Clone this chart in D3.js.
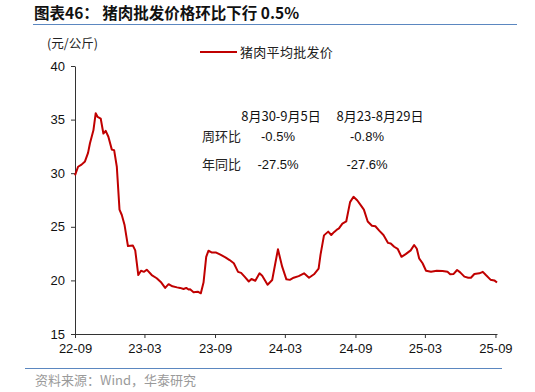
<!DOCTYPE html>
<html>
<head>
<meta charset="utf-8">
<script src="https://cdn.jsdelivr.net/npm/d3@7"></script>
<style>
  body { margin: 0; background: #fff; }
  text { font-family: "Liberation Sans", Arial, "Noto Sans CJK SC", sans-serif; }
  .cjk { font-family: "Noto Sans CJK SC", sans-serif; }
</style>
</head>
<body>
<div id="chart"></div>
<script>
// ---- data ----
const title = "图表46：  猪肉批发价格环比下行 0.5%"
const unitLabel = "(元/公斤)"
const seriesName = "猪肉平均批发价"
const source = "资料来源：Wind，华泰研究"

const dates = [
  "2022-09-01", "2022-09-09", "2022-09-18", "2022-09-27", "2022-10-05", "2022-10-10",
  "2022-10-19", "2022-10-25", "2022-10-30", "2022-11-07", "2022-11-14", "2022-11-20",
  "2022-11-27", "2022-12-06", "2022-12-12", "2022-12-19", "2022-12-26", "2023-01-01",
  "2023-01-08", "2023-01-17", "2023-01-30", "2023-02-05", "2023-02-13", "2023-02-20",
  "2023-02-28", "2023-03-07", "2023-03-20", "2023-04-02", "2023-04-14", "2023-04-24",
  "2023-05-03", "2023-05-13", "2023-05-25", "2023-06-02", "2023-06-11", "2023-06-18",
  "2023-06-24", "2023-06-28", "2023-07-07", "2023-07-18", "2023-07-26", "2023-08-02",
  "2023-08-09", "2023-08-15", "2023-08-24", "2023-09-04", "2023-09-15", "2023-09-28",
  "2023-10-09", "2023-10-20", "2023-10-31", "2023-11-08", "2023-11-17", "2023-11-28",
  "2023-12-05", "2023-12-15", "2023-12-26", "2024-01-02", "2024-01-16", "2024-01-28",
  "2024-02-12", "2024-02-23", "2024-03-05", "2024-03-14", "2024-03-24", "2024-04-06",
  "2024-04-20", "2024-05-03", "2024-05-16", "2024-05-28", "2024-06-02", "2024-06-11",
  "2024-06-22", "2024-06-30", "2024-07-07", "2024-07-16", "2024-07-20", "2024-07-29",
  "2024-08-08", "2024-08-18", "2024-08-27", "2024-09-06", "2024-09-17", "2024-09-23",
  "2024-10-03", "2024-10-14", "2024-10-23", "2024-11-02", "2024-11-13", "2024-11-25",
  "2024-12-02", "2024-12-11", "2024-12-20", "2024-12-30", "2025-01-10", "2025-01-23",
  "2025-02-01", "2025-02-08", "2025-02-14", "2025-02-23", "2025-03-04", "2025-03-17",
  "2025-04-01", "2025-04-16", "2025-04-29", "2025-05-06", "2025-05-15", "2025-05-24",
  "2025-06-01", "2025-06-12", "2025-06-22", "2025-06-29", "2025-07-08", "2025-07-21",
  "2025-07-30", "2025-08-07", "2025-08-19", "2025-08-29", "2025-09-05"
]
const prices = [
  29.8, 30.6, 30.8, 31.1, 31.9, 32.8,
  34.0, 35.6, 35.25, 35.1, 33.7, 33.95,
  33.4, 32.2, 32.15, 30.6, 26.6, 26.1,
  25.2, 23.2, 23.25, 22.8, 20.5, 20.9,
  20.8, 21.0, 20.5, 20.2, 19.8, 19.3,
  19.65, 19.45, 19.35, 19.3, 19.2, 19.3,
  19.15, 19.17, 18.9, 18.95, 18.8, 19.8,
  22.2, 22.77, 22.6, 22.6, 22.4, 22.15,
  21.9, 21.6, 20.8, 20.7, 20.35, 19.9,
  20.13, 19.97, 20.66, 20.44, 19.6, 20.04,
  22.9, 21.28, 20.1, 20.05, 20.25, 20.4,
  20.66, 20.25, 20.57, 21.1, 22.4, 24.2,
  24.55, 24.24, 24.5, 24.77, 24.85, 25.3,
  25.5, 27.3, 27.8, 27.45, 26.9, 26.6,
  25.5, 25.1, 25.05, 24.64, 24.24, 23.5,
  23.45, 23.14, 22.95, 22.2, 22.45, 22.8,
  23.3, 22.95, 22.06, 21.6, 20.9, 20.8,
  20.9, 20.88, 20.8, 20.57, 20.6, 20.97,
  20.75, 20.35, 20.25, 20.25, 20.6, 20.66,
  20.8, 20.5, 20.07, 20.0, 19.8
]

const xTickDates = ["2022-09-01", "2023-03-01", "2023-09-01", "2024-03-01", "2024-09-01", "2025-03-01", "2025-09-01"]
const yTicks = [15, 20, 25, 30, 35, 40]

const tableHeaders = ["8月30-9月5日", "8月23-8月29日"]
const tableRows = ["周环比", "年同比"]
const tableValues = [["-0.5%", "-0.8%"], ["-27.5%", "-27.6%"]]

// ---- layout ----
const W = 535, H = 392
const margin = { top: 66, right: 38, bottom: 58, left: 75 }
const parse = d3.timeParse("%Y-%m-%d")
const data = dates.map((d, i) => ({ date: parse(d), value: prices[i] }))

const svg = d3.select("#chart").append("svg").attr("width", W).attr("height", H)

const x = d3.scaleTime()
  .domain([parse("2022-09-01"), parse("2025-09-05")])
  .range([margin.left, W - margin.right])
const y = d3.scaleLinear().domain([15, 40]).range([H - margin.bottom, margin.top])

// title + rules
svg.append("text").attr("class", "cjk").attr("x", 34).attr("y", 19)
  .attr("font-size", 15.5).attr("font-weight", "bold").attr("fill", "#111").text(title)
svg.append("line").attr("x1", 33).attr("x2", 517).attr("y1", 24.5).attr("y2", 24.5)
  .attr("stroke", "#5b87c0").attr("stroke-width", 1)
svg.append("line").attr("x1", 25).attr("x2", 502).attr("y1", 368.5).attr("y2", 368.5)
  .attr("stroke", "#5b87c0").attr("stroke-width", 1)
svg.append("text").attr("class", "cjk").attr("x", 35).attr("y", 385)
  .attr("font-size", 13).attr("fill", "#9a9a9a").text(source)

// unit label
svg.append("text").attr("class", "cjk").attr("x", 47).attr("y", 48)
  .attr("font-size", 12.5).attr("fill", "#222").text(unitLabel)

// axes
const fmt = d3.timeFormat("%y-%m")
svg.append("g")
  .attr("transform", `translate(0, ${H - margin.bottom})`)
  .call(d3.axisBottom(x).tickValues(xTickDates.map(parse)).tickFormat(fmt).tickSize(4).tickSizeOuter(0))
  .call((g) => g.select(".domain").attr("stroke", "#333"))
  .call((g) => g.selectAll(".tick line").attr("stroke", "#333"))
  .call((g) => g.selectAll(".tick text").attr("font-size", 13).attr("fill", "#111")
    .attr("font-family", "Liberation Sans, Arial, sans-serif").attr("dy", "0.95em"))

svg.append("g")
  .attr("transform", `translate(${margin.left}, 0)`)
  .call(d3.axisLeft(y).tickValues(yTicks).tickSize(4).tickSizeOuter(0))
  .call((g) => g.select(".domain").attr("stroke", "#333"))
  .call((g) => g.selectAll(".tick line").attr("stroke", "#333"))
  .call((g) => g.selectAll(".tick text").attr("font-size", 13).attr("fill", "#111")
    .attr("font-family", "Liberation Sans, Arial, sans-serif").attr("x", -10))

// series
const line = d3.line().x((d) => x(d.date)).y((d) => y(d.value))
svg.append("path").datum(data)
  .attr("fill", "none").attr("stroke", "#c00000").attr("stroke-width", 2)
  .attr("stroke-linejoin", "round").attr("d", line)

// legend
const lg = svg.append("g").attr("transform", "translate(200, 52)")
lg.append("line").attr("x1", 0).attr("x2", 37).attr("stroke", "#c00000").attr("stroke-width", 2)
lg.append("text").attr("class", "cjk").attr("x", 40).attr("y", 4.5)
  .attr("font-size", 13).attr("letter-spacing", 0.3).attr("fill", "#222").text(seriesName)

// annotation table
const headX = [281, 380]
const valX = [278, 367]
const rowY = [141, 169]
svg.selectAll("text.hdr").data(tableHeaders).join("text")
  .attr("class", "hdr cjk").attr("x", (d, i) => headX[i]).attr("y", 121)
  .attr("text-anchor", "middle").attr("font-size", 13).attr("fill", "#111").text((d) => d)
svg.selectAll("text.rowlab").data(tableRows).join("text")
  .attr("class", "rowlab cjk").attr("x", 202).attr("y", (d, i) => rowY[i])
  .attr("font-size", 13).attr("fill", "#222").text((d) => d)
tableValues.forEach((row, r) => {
  row.forEach((v, c) => {
    svg.append("text").attr("x", valX[c]).attr("y", rowY[r])
      .attr("text-anchor", "middle").attr("font-size", 13).attr("fill", "#111").text(v)
  })
})
</script>
</body>
</html>
